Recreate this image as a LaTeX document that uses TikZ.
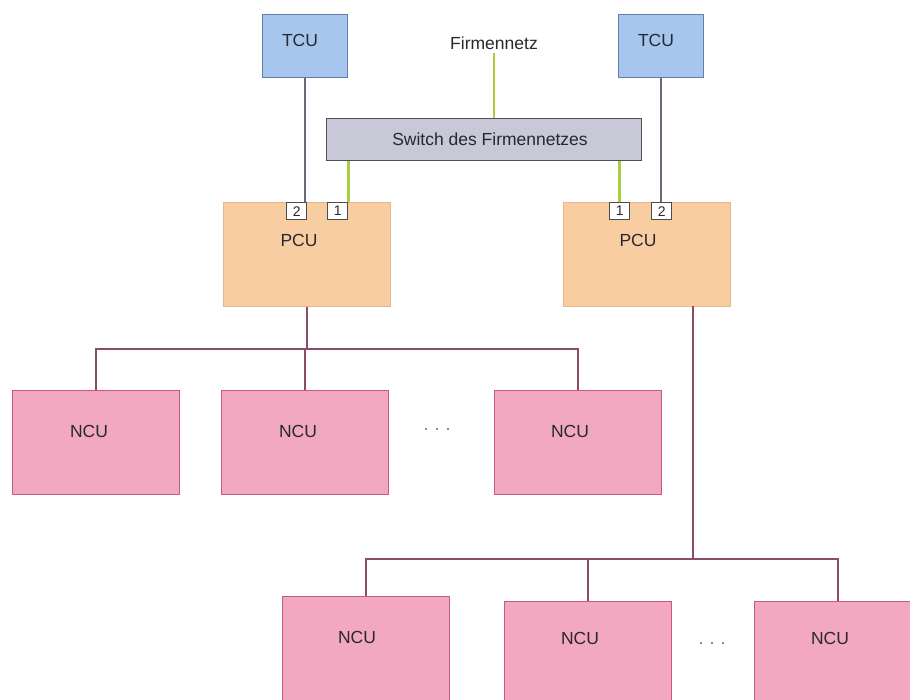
\documentclass[tikz,border=0pt]{standalone}
\usepackage{fontspec}
\setmainfont{Liberation Sans}
\definecolor{tcufill}{RGB}{166,198,238}
\definecolor{tculine}{RGB}{100,125,170}
\definecolor{swfill}{RGB}{200,200,214}
\definecolor{swline}{RGB}{80,80,95}
\definecolor{pcufill}{RGB}{249,205,162}
\definecolor{pculine}{RGB}{232,182,132}
\definecolor{ncufill}{RGB}{242,168,192}
\definecolor{nculine}{RGB}{200,90,130}
\definecolor{busline}{RGB}{140,75,105}
\definecolor{tcuwire}{RGB}{105,105,120}
\definecolor{netwire}{RGB}{172,206,62}
\definecolor{txt}{RGB}{40,40,48}
\begin{document}
\begin{tikzpicture}[x=1pt,y=-1pt,
  every node/.style={font=\fontsize{17.5}{20}\selectfont, text=txt},
  unit/.style={draw, line width=1.4pt, anchor=north west, inner sep=0pt,
    minimum width=167pt, minimum height=104pt},
  tcubox/.style={unit, fill=tcufill, draw=tculine, minimum width=85pt, minimum height=63pt},
  pcubox/.style={unit, fill=pcufill, draw=pculine},
  ncubox/.style={unit, fill=ncufill, draw=nculine},
  swbox/.style={unit, fill=swfill, draw=swline, minimum width=315pt, minimum height=42pt},
  port/.style={draw=black!70, fill=white, line width=1.3pt, anchor=north west, inner sep=0pt,
    minimum width=20pt, minimum height=17pt, font=\fontsize{14}{16}\selectfont},
  tcuwire/.style={draw=tcuwire, line width=2pt},
  netwire/.style={draw=netwire, line width=2.6pt},
  bus/.style={draw=busline, line width=2pt},
  dotsep/.style={text=black!55, font=\fontsize{18}{20}\selectfont}
]
\useasboundingbox (0,0) rectangle (910,699);
\clip (0,0) rectangle (910,699);
\fill[white] (0,0) rectangle (910,699);

% company network and its switch
\node (fnetz) at (494,43) {Firmennetz};
\node[swbox] (switch) at (326,118) {};
\node (switcht) at (490,139) {Switch des Firmennetzes};

% terminal units
\node[tcubox] (tcuL) at (262,14) {};
\node (tcuLt) at (300,40) {TCU};
\node[tcubox] (tcuR) at (618,14) {};
\node (tcuRt) at (656,40) {TCU};

% panel control units with their ports
\node[pcubox] (pcuL) at (223,202) {};
\node (pcuLt) at (299,240) {PCU};
\node[port] (p2L) at (286,202) {2};
\node[port] (p1L) at (327,202) {1};
\node[pcubox] (pcuR) at (563,202) {};
\node (pcuRt) at (638,240) {PCU};
\node[port] (p1R) at (609,202) {1};
\node[port] (p2R) at (651,202) {2};

% first group of NCUs
\node[ncubox] (ncu1) at (12,390) {};
\node (ncu1t) at (89,431) {NCU};
\node[ncubox] (ncu2) at (221,390) {};
\node (ncu2t) at (298,431) {NCU};
\node[dotsep] (dots1) at (437,430) {.\,\,.\,\,.};
\node[ncubox] (ncu3) at (494,390) {};
\node (ncu3t) at (570,431) {NCU};

% second group of NCUs
\node[ncubox] (ncu4) at (282,596) {};
\node (ncu4t) at (357,637) {NCU};
\node[ncubox] (ncu5) at (504,601) {};
\node (ncu5t) at (580,638) {NCU};
\node[dotsep] (dots2) at (712,644) {.\,\,.\,\,.};
\node[ncubox] (ncu6) at (754,601) {};
\node (ncu6t) at (830,638) {NCU};

% wiring
\draw[netwire] (fnetz.south) -- (fnetz.south |- switch.north);
\draw[netwire] (p1L.north east |- switch.south) -- (p1L.north east);
\draw[netwire] (p1R.north |- switch.south) -- (p1R.north);
\draw[tcuwire] (tcuL.south) -- (tcuL.south |- p2L.north);
\draw[tcuwire] (tcuR.south) -- (tcuR.south |- p2R.north);

\coordinate (busL) at (307,349);
\coordinate (dropR) at (693,306);
\coordinate (busR) at (693,559);
\draw[bus] (pcuL.south) -- (pcuL.south |- busL);
\draw[bus] (ncu1.north) -- (ncu1.north |- busL) -- (ncu3.north |- busL) -- (ncu3.north);
\draw[bus] (ncu2.north |- busL) -- (ncu2.north);
\draw[bus] (dropR) -- (busR);
\draw[bus] (ncu4.north) -- (ncu4.north |- busR) -- (ncu6.north |- busR) -- (ncu6.north);
\draw[bus] (ncu5.north |- busR) -- (ncu5.north);
\end{tikzpicture}
\end{document}
